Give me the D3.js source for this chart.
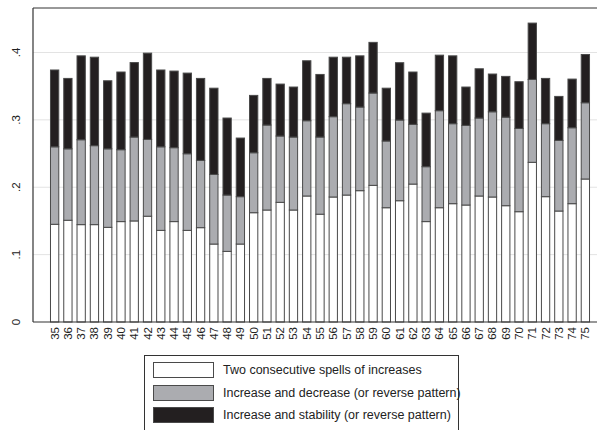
<!DOCTYPE html>
<html><head><meta charset="utf-8">
<script src="https://cdn.jsdelivr.net/npm/d3@7"></script>
<style>html,body{margin:0;padding:0;background:#fff;} svg{display:block;}</style>
</head><body>
<svg id="c" width="597" height="430"></svg>
<script>
const categories = d3.range(35, 76).map(String);
const twoIncreases = [0.145,0.151,0.1445,0.1445,0.1405,0.149,0.150,0.157,0.136,0.149,0.136,0.140,0.1157,0.1048,0.1157,0.1622,0.1662,0.1776,0.1662,0.187,0.160,0.1855,0.1884,0.1949,0.2028,0.1696,0.180,0.2047,0.149,0.1696,0.1756,0.1736,0.187,0.1855,0.1726,0.1637,0.237,0.186,0.1647,0.1756,0.2122];
const cumIncDec = [0.260,0.257,0.2705,0.2617,0.257,0.2557,0.2745,0.271,0.260,0.2587,0.2497,0.2398,0.219,0.1884,0.186,0.2512,0.2923,0.276,0.2745,0.2987,0.2745,0.3047,0.324,0.319,0.3398,0.2686,0.2997,0.2933,0.2305,0.3136,0.2943,0.2918,0.3027,0.312,0.304,0.2873,0.360,0.2943,0.2695,0.2883,0.3254];
const cumTotal = [0.374,0.3615,0.395,0.393,0.358,0.371,0.385,0.399,0.374,0.3724,0.3694,0.3615,0.347,0.3027,0.273,0.3363,0.3615,0.3531,0.3487,0.3877,0.3674,0.393,0.393,0.395,0.415,0.347,0.3848,0.371,0.310,0.396,0.395,0.3487,0.3758,0.368,0.3645,0.3566,0.4436,0.3615,0.3348,0.3605,0.397];
const incDec = cumIncDec.map((v,i)=>v - twoIncreases[i]);
const incStab = cumTotal.map((v,i)=>v - cumIncDec[i]);
const yTicks = [0, 0.1, 0.2, 0.3, 0.4];
const yTickLabels = ["0", ".1", ".2", ".3", ".4"];
const seriesNames = ["Two consecutive spells of increases","Increase and decrease (or reverse pattern)","Increase and stability (or reverse pattern)"];
const seriesColors = ["#ffffff","#abacb0","#231f20"];

const svg = d3.select("#c");
const font = "Liberation Sans, Arial, sans-serif";
const pLeft = 33, pTop = 8, pBottom = 322;

const y = d3.scaleLinear().domain([0, 0.466]).range([pBottom, pTop]);
const x = d3.scaleBand().domain(categories).range([33, 607]).paddingInner(0.3).paddingOuter(1.28);

// gridlines
svg.append("g").selectAll("line").data(yTicks.slice(1)).join("line")
  .attr("x1", pLeft).attr("x2", 597).attr("y1", d=>y(d)).attr("y2", d=>y(d))
  .attr("stroke", "#e3e3e3").attr("stroke-width", 1);

// stacked data
const rows = categories.map((c,i)=>({cat:c, s0:twoIncreases[i], s1:incDec[i], s2:incStab[i]}));
const stack = d3.stack().keys(["s0","s1","s2"])(rows);

svg.append("g").selectAll("g").data(stack).join("g")
  .attr("fill", (d,i)=>seriesColors[i])
  .selectAll("rect").data(d=>d).join("rect")
  .attr("x", d=>x(d.data.cat)+0.5)
  .attr("width", x.bandwidth()-1)
  .attr("y", d=>y(d[1]))
  .attr("height", d=>y(d[0])-y(d[1]))
  .attr("stroke", "#4a4a4a").attr("stroke-width", 1);

// frame
svg.append("line").attr("x1", pLeft).attr("x2", 597).attr("y1", pTop).attr("y2", pTop).attr("stroke", "#333").attr("stroke-width", 1);
svg.append("line").attr("x1", pLeft).attr("x2", 597).attr("y1", pBottom).attr("y2", pBottom).attr("stroke", "#333").attr("stroke-width", 1.2);
svg.append("line").attr("x1", pLeft).attr("x2", pLeft).attr("y1", pTop).attr("y2", pBottom).attr("stroke", "#333").attr("stroke-width", 1.2);

// y labels rotated
svg.append("g").selectAll("text").data(yTicks).join("text")
  .attr("transform", d=>`translate(20,${y(d)}) rotate(-90)`)
  .attr("text-anchor", "middle")
  .attr("font-family", font).attr("font-size", 11.5).attr("fill", "#222")
  .text((d,i)=>yTickLabels[i]);

// x labels rotated
svg.append("g").selectAll("text").data(categories).join("text")
  .attr("transform", d=>`translate(${x(d)+x.bandwidth()/2+4},327) rotate(-90)`)
  .attr("text-anchor", "end")
  .attr("font-family", font).attr("font-size", 11.5).attr("fill", "#222")
  .text(d=>d);

// legend
const lg = svg.append("g");
lg.append("rect").attr("x", 144.5).attr("y", 355.5).attr("width", 314).attr("height", 80)
  .attr("fill", "#fff").attr("stroke", "#333").attr("stroke-width", 1);
const rowY = [362, 385, 407];
seriesNames.forEach((n,i)=>{
  lg.append("rect").attr("x", 153.5).attr("y", rowY[i]+0.5).attr("width", 60).attr("height", 15)
    .attr("fill", seriesColors[i]).attr("stroke", "#4a4a4a").attr("stroke-width", 1);
  lg.append("text").attr("x", 223).attr("y", rowY[i]+12)
    .attr("font-family", font).attr("font-size", 12.5).attr("fill", "#222").text(n);
});
</script>
</body></html>
